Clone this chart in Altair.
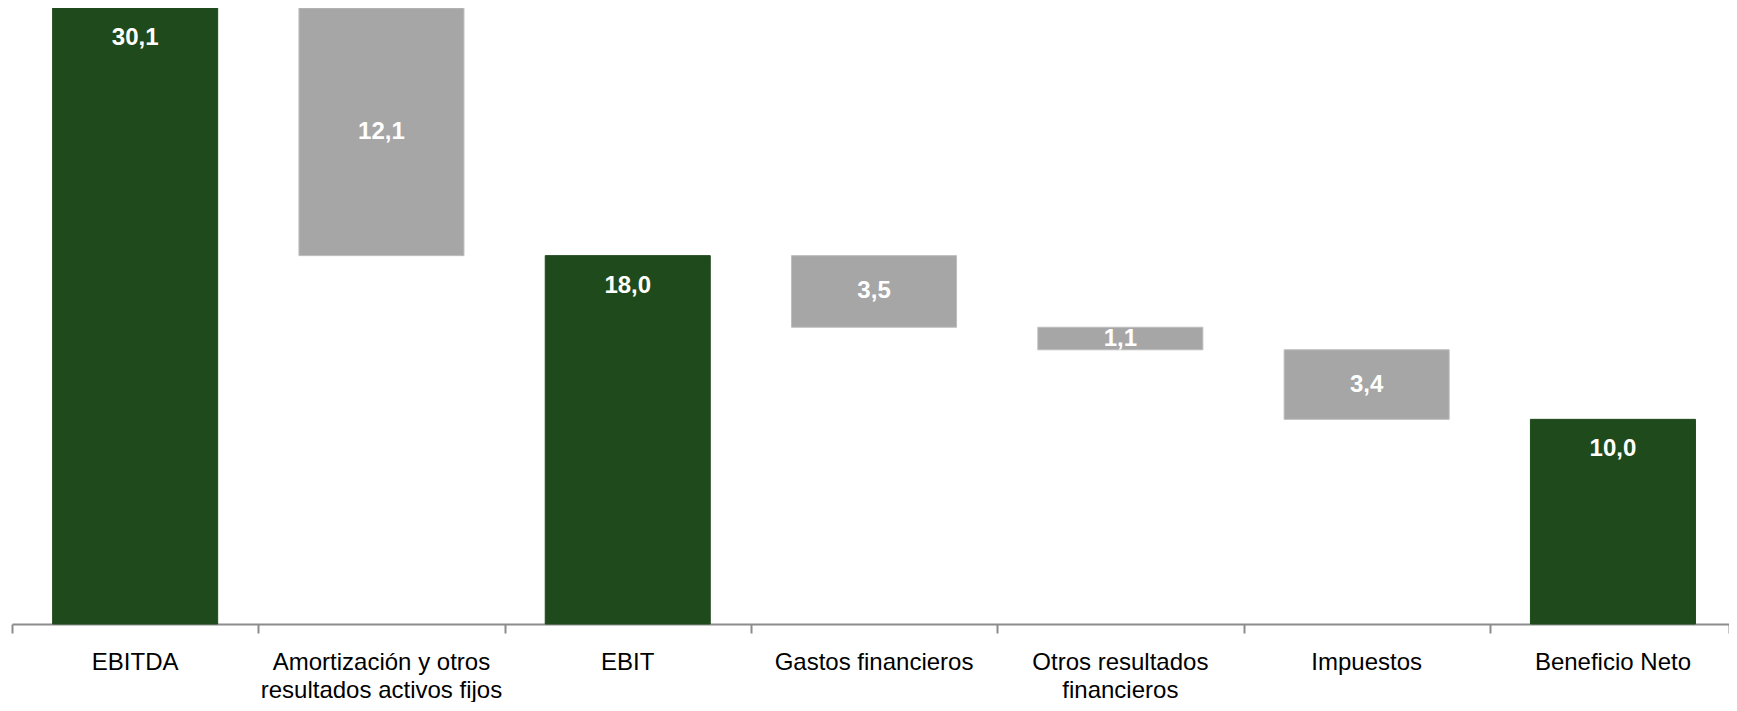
import altair as alt
import pandas as pd

categories = ["EBITDA", "Amortización y otros\nresultados activos fijos", "EBIT",
              "Gastos financieros", "Otros resultados\nfinancieros", "Impuestos", "Beneficio Neto"]
values = [30.1, -12.1, 18.0, -3.5, -1.1, -3.4, 10.0]
kinds = ["total", "delta", "total", "delta", "delta", "delta", "total"]

rows = []
running = 0.0
for i, (c, v, k) in enumerate(zip(categories, values, kinds)):
    if k == "total":
        start, end = 0.0, v
        running = v
    else:
        start, end = running, running + v
        running = running + v
    rows.append(dict(cat=c, idx=i, x0=i - 0.335, x1=i + 0.335,
                     lo=min(start, end), hi=max(start, end), mid=(start + end) / 2,
                     kind=k, label=f"{abs(v):.1f}".replace(".", ",")))
df = pd.DataFrame(rows)

FONT = "Liberation Sans Narrow, Arial Narrow, Liberation Sans, Arial"
GREEN = "#1F4A1C"
GRAY = "#A6A6A6"

# plot spans 12..1729 px on the page; band step of 246.3 px keeps bars where the reference has them
STEP = 246.3
PLOT_W = 1717
x_end = -0.5 + PLOT_W / STEP
xscale = alt.Scale(domain=[-0.5, x_end], nice=False, zero=False)
yscale = alt.Scale(domain=[0, 30.1], nice=False, zero=True)

tick_vals = [-0.5 + k for k in range(7)] + [x_end]

base = alt.Chart(df)

bars = base.mark_bar().encode(
    x=alt.X("x0:Q", scale=xscale,
            axis=alt.Axis(values=tick_vals, labels=False, title=None,
                          grid=False, tickSize=9, tickWidth=2, domainWidth=2,
                          domainColor="#8C8C8C", tickColor="#8C8C8C")),
    x2="x1:Q",
    y=alt.Y("lo:Q", scale=yscale, axis=None),
    y2="hi:Q",
    color=alt.Color("kind:N", scale=alt.Scale(domain=["total", "delta"], range=[GREEN, GRAY]),
                    legend=None),
    stroke=alt.Stroke("kind:N", scale=alt.Scale(domain=["total", "delta"], range=[GREEN, "#BDBDBD"]),
                      legend=None),
)

total_labels = base.transform_filter(alt.datum.kind == "total").mark_text(
    font=FONT, fontSize=24, fontWeight="bold", color="white", baseline="middle", dy=30
).encode(x=alt.X("idx:Q", scale=xscale), y=alt.Y("hi:Q", scale=yscale), text="label:N")

delta_labels = base.transform_filter(alt.datum.kind == "delta").mark_text(
    font=FONT, fontSize=24, fontWeight="bold", color="white", baseline="middle", dy=0
).encode(x=alt.X("idx:Q", scale=xscale), y=alt.Y("mid:Q", scale=yscale), text="label:N")

cat_labels = base.mark_text(
    font=FONT, fontSize=24, color="#000000", baseline="alphabetic", dy=46,
    lineBreak="\n", lineHeight=28, align="center"
).encode(x=alt.X("idx:Q", scale=xscale), y=alt.YDatum(0, scale=yscale), text="cat:N")

chart = alt.layer(bars, total_labels, delta_labels, cat_labels).properties(
    width=PLOT_W, height=616,
    autosize=alt.AutoSizeParams(type="none"),
    padding={"left": 4, "top": 0, "right": 0, "bottom": 78},
).configure_view(stroke=None)

chart.save("out.html", embed_options={"renderer": "svg", "actions": False})
